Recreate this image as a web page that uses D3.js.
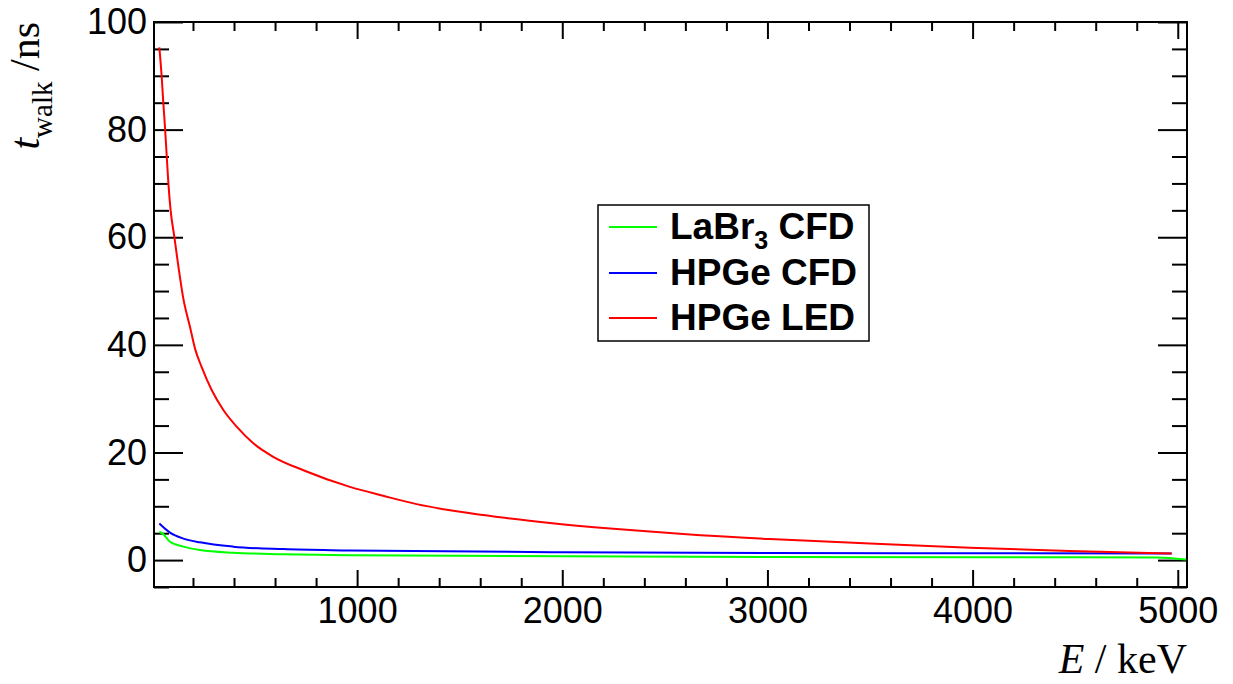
<!DOCTYPE html>
<html>
<head>
<meta charset="utf-8">
<script src="https://cdn.jsdelivr.net/npm/d3@7"></script>
<style>
  html, body { margin: 0; padding: 0; background: #fff; }
  svg { display: block; }
  .tick text { font-family: "Liberation Sans", Arial, sans-serif; }
</style>
</head>
<body>
<script>
// Time walk vs. energy for three timing setups
const ledEnergy = [36, 47, 55, 64, 72, 80, 91, 109, 128, 153, 185, 210, 242, 291, 348, 413, 494, 591, 738, 965, 1127, 1290, 1615, 1940, 2265, 2589, 3012, 3499, 3987, 4474, 4970];
const hpgeLed   = [95.3, 90.1, 85.2, 80.2, 75.1, 70.1, 65.0, 60.1, 54.8, 48.6, 43.4, 39.3, 35.9, 31.6, 27.9, 24.8, 21.7, 19.2, 16.7, 13.6, 11.95, 10.4, 8.36, 6.9, 5.76, 4.83, 3.9, 3.1, 2.3, 1.67, 1.24];

const cfdEnergy = [36, 88, 153, 234, 396, 640, 965, 2000, 3000, 4000, 4970];
const hpgeCfd   = [6.8, 5.1, 4.0, 3.3, 2.5, 2.04, 1.8, 1.45, 1.3, 1.26, 1.22];

const labrEnergy = [36, 55, 88, 153, 234, 396, 640, 965, 2000, 3000, 4000, 4900, 5040];
const labrCfd    = [5.27, 4.83, 3.4, 2.5, 1.86, 1.36, 1.1, 0.9, 0.7, 0.58, 0.52, 0.5, 0.1];

const xMajor = [1000, 2000, 3000, 4000, 5000];
const xMinor = d3.range(200, 5001, 200).filter(v => v % 1000 !== 0);
const yMajor = [0, 20, 40, 60, 80, 100];
const yMinor = d3.range(-5, 101, 5).filter(v => v % 20 !== 0);

const seriesList = [
  { name: "LaBr3 CFD", x: labrEnergy, y: labrCfd, color: "#00ff00" },
  { name: "HPGe CFD",  x: cfdEnergy,  y: hpgeCfd, color: "#0000ff" },
  { name: "HPGe LED",  x: ledEnergy,  y: hpgeLed, color: "#ff0000" }
];

const W = 1233, H = 684;
const frame = { left: 154, top: 22, right: 1187, bottom: 587 };

const svg = d3.select("body").append("svg")
  .attr("width", W).attr("height", H)
  .style("background", "#fff");

const x = d3.scaleLinear().domain([10, 5045]).range([frame.left, frame.right]);
const y = d3.scaleLinear().domain([-5, 100]).range([frame.bottom, frame.top]);

const tickFont = "36px";

function styleAxis(g) {
  g.select(".domain").remove();
  g.selectAll(".tick line").attr("stroke", "#000").attr("stroke-width", 2);
  g.selectAll(".tick text").attr("fill", "#000").style("font-size", tickFont);
}

// bottom axis: major with labels, minor without
svg.append("g").attr("transform", `translate(0,${frame.bottom})`)
  .call(d3.axisBottom(x).tickValues(xMajor).tickSizeInner(-17).tickSizeOuter(0).tickPadding(10).tickFormat(d3.format("d")))
  .call(styleAxis);
svg.append("g").attr("transform", `translate(0,${frame.bottom})`)
  .call(d3.axisBottom(x).tickValues(xMinor).tickSizeInner(-9).tickSizeOuter(0).tickFormat(""))
  .call(styleAxis);
// top axis ticks
svg.append("g").attr("transform", `translate(0,${frame.top})`)
  .call(d3.axisTop(x).tickValues(xMajor).tickSizeInner(-17).tickSizeOuter(0).tickFormat(""))
  .call(styleAxis);
svg.append("g").attr("transform", `translate(0,${frame.top})`)
  .call(d3.axisTop(x).tickValues(xMinor).tickSizeInner(-9).tickSizeOuter(0).tickFormat(""))
  .call(styleAxis);

// left axis
svg.append("g").attr("transform", `translate(${frame.left},0)`)
  .call(d3.axisLeft(y).tickValues(yMajor).tickSizeInner(-29).tickSizeOuter(0).tickPadding(7).tickFormat(d3.format("d")))
  .call(styleAxis);
svg.append("g").attr("transform", `translate(${frame.left},0)`)
  .call(d3.axisLeft(y).tickValues(yMinor).tickSizeInner(-15).tickSizeOuter(0).tickFormat(""))
  .call(styleAxis);
// right axis ticks
svg.append("g").attr("transform", `translate(${frame.right},0)`)
  .call(d3.axisRight(y).tickValues(yMajor).tickSizeInner(-29).tickSizeOuter(0).tickFormat(""))
  .call(styleAxis);
svg.append("g").attr("transform", `translate(${frame.right},0)`)
  .call(d3.axisRight(y).tickValues(yMinor).tickSizeInner(-15).tickSizeOuter(0).tickFormat(""))
  .call(styleAxis);

// curves
const line = d3.line().x(d => x(d[0])).y(d => y(d[1])).curve(d3.curveMonotoneX);
seriesList.forEach(s => {
  svg.append("path")
    .datum(s.x.map((e, i) => [e, s.y[i]]))
    .attr("d", line)
    .attr("fill", "none")
    .attr("stroke", s.color)
    .attr("stroke-width", 2)
    .attr("stroke-linejoin", "round");
});

// frame
svg.append("rect")
  .attr("x", frame.left).attr("y", frame.top)
  .attr("width", frame.right - frame.left).attr("height", frame.bottom - frame.top)
  .attr("fill", "none").attr("stroke", "#000").attr("stroke-width", 2);

// axis titles
const serif = "'Liberation Serif', 'Times New Roman', serif";
const xt = svg.append("text")
  .attr("x", frame.right).attr("y", 673)
  .attr("text-anchor", "end")
  .style("font-family", serif).style("font-size", "42px").attr("fill", "#000");
xt.append("tspan").style("font-style", "italic").text("E");
xt.append("tspan").text(" / keV");

const yt = svg.append("text")
  .attr("transform", `translate(39,${frame.top}) rotate(-90)`)
  .attr("text-anchor", "end")
  .style("font-family", serif).style("font-size", "42px").attr("fill", "#000");
yt.append("tspan").style("font-style", "italic").text("t");
yt.append("tspan").attr("dy", 13).style("font-size", "29px").text("walk");
yt.append("tspan").attr("dy", -13).text(" /ns");

// legend
const leg = svg.append("g");
leg.append("rect")
  .attr("x", 598).attr("y", 205).attr("width", 271).attr("height", 136)
  .attr("fill", "#fff").attr("stroke", "#000").attr("stroke-width", 1.5);
const rowY = [227, 273, 318];
seriesList.forEach((s, i) => {
  leg.append("line")
    .attr("x1", 609).attr("x2", 657).attr("y1", rowY[i]).attr("y2", rowY[i])
    .attr("stroke", s.color).attr("stroke-width", 2);
  const t = leg.append("text")
    .attr("x", 670).attr("y", rowY[i] + 11.5)
    .style("font-family", "'Liberation Sans', Arial, sans-serif")
    .style("font-weight", "bold").style("font-size", "37px").attr("fill", "#000");
  if (i === 0) {
    t.append("tspan").text("LaBr");
    t.append("tspan").attr("dy", 10).style("font-size", "25px").text("3");
    t.append("tspan").attr("dy", -10).text(" CFD");
  } else {
    t.text(s.name);
  }
});
</script>
</body>
</html>
